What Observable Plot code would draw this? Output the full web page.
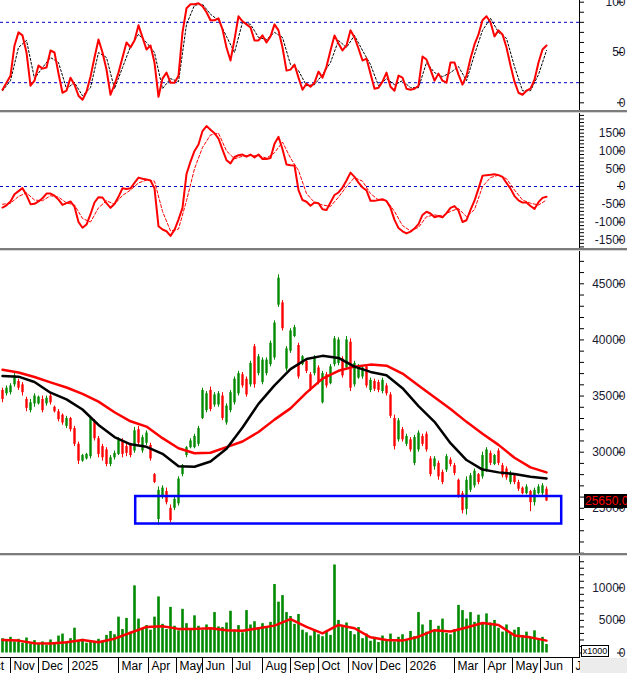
<!DOCTYPE html>
<html><head><meta charset="utf-8">
<script src="https://cdn.jsdelivr.net/npm/d3@7"></script>
<script src="https://cdn.jsdelivr.net/npm/@observablehq/plot@0.6"></script>
<style>
html,body{margin:0;padding:0;background:#fff}
#chart{position:relative;width:627px;height:673px;overflow:hidden;font-family:Arial,"Liberation Sans",sans-serif}
.panel{position:absolute;left:0;width:627px}
.panel svg{display:block}
#p4 svg{overflow:visible!important}
.sep{position:absolute;left:0;width:627px;height:3px;background:linear-gradient(#7c7c7c 0,#7c7c7c 2px,#d6d6d6 2px,#d6d6d6 3px);z-index:5}
#vaxis{position:absolute;left:579px;top:0;width:1px;height:657px;background:#000;z-index:4}
#xline{position:absolute;left:0;top:657px;width:580px;height:1px;background:#000;z-index:4}
#corner{position:absolute;left:580px;top:658px;width:47px;height:15px;background:#ececec;z-index:4}
#unit{position:absolute;left:581px;top:645px;width:28px;height:12px;box-sizing:border-box;border:1px solid #000;background:#fff;font-size:9px;line-height:10px;text-align:center;z-index:6;color:#000}
#tag{position:absolute;left:584px;width:45px;height:14px;background:#000;color:#ff0000;font-size:12px;line-height:14px;padding-left:1px;white-space:nowrap;overflow:hidden;z-index:6}
</style></head>
<body>
<div id="chart">
  <div class="panel" id="p1" style="top:0;height:110px"></div>
  <div class="sep" style="top:110px"></div>
  <div class="panel" id="p2" style="top:113px;height:135px"></div>
  <div class="sep" style="top:248px"></div>
  <div class="panel" id="p3" style="top:251px;height:302px"></div>
  <div class="sep" style="top:553px"></div>
  <div class="panel" id="p4" style="top:556px;height:101px"></div>
  <div class="panel" id="p5" style="top:657px;height:16px"></div>
  <div id="vaxis"></div>
  <div id="xline"></div>
  <div id="corner"></div>
  <div id="unit">x1000</div>
  <div id="tag"></div>
</div>
<script>
// ---------- data (one bar ≈ 3 trading sessions) ----------
const monthLabels = ["Oct","Nov","Dec","2025","Mar","Apr","May","Jun","Jul","Aug","Sep","Oct","Nov","Dec","2026","Mar","Apr","May","Jun","Jul"];
const monthStarts = [-5, 2, 9, 16.5, 29, 36.5, 43.5, 50, 57.5, 65, 72, 79, 86.5, 93.5, 101, 113, 120.5, 127.5, 134.5, 142.5];

const open = [35500,35200,35300,36000,36300,36000,34700,33700,34300,34300,34700,34300,35000,34000,33600,33300,32300,33000,32100,30700,
29200,29400,29600,32700,31200,30500,30200,28900,29500,29800,31000,30500,30600,30100,32000,30100,30800,30600,28000,24000,
26000,26500,25000,25000,25400,28000,29700,30400,30400,30700,33000,33700,35500,34200,34200,35000,32600,33700,34400,35200,
36900,36500,36000,39400,37000,36200,37000,37800,38400,43100,43300,37400,39000,40300,39500,37800,38100,36900,37000,37500,
34400,36900,36100,37800,37900,38300,37500,39800,36000,36600,36700,37600,35500,36300,36200,35400,35900,35100,33000,31100,
32000,30700,31100,29000,30200,31400,31600,29400,28700,29000,28200,28400,29300,28800,27500,26300,24900,26600,27000,28000,
27800,28400,29900,28900,30100,28800,28500,27300,27900,27300,26800,26300,26500,25500,26300,26300,26700];
const high = [35700,35900,36100,37000,36500,36200,34900,34700,35200,35000,35000,35000,35200,34100,33800,33400,33200,33100,32300,30900,
29800,29900,33200,32900,31400,30700,30400,29700,30100,31300,31200,30700,30800,32200,32300,31500,31900,30800,28100,26900,
27000,26800,25300,26000,27800,28900,30500,31200,31600,32300,35700,35400,35800,35300,35400,35300,34300,35500,36700,37200,
37100,36700,38100,39600,38700,38400,38400,39900,41700,45800,43500,39400,41000,41300,39700,38600,38300,37100,38600,37700,
37200,37100,37800,40300,40200,38500,40300,40100,38100,37800,37700,37800,36600,36500,36400,36600,36100,35300,33300,33000,
32200,31600,31300,31500,31900,31600,31800,29600,29600,29200,28400,29800,29500,29000,27600,26500,27800,28100,28500,28100,
30000,30400,30100,29800,30300,29000,28700,28300,28100,27500,26900,27100,26600,26800,27100,27200,26900];
const low = [34400,35000,35100,35800,35500,35000,33600,33500,34000,34200,33500,34100,34200,33500,32700,32400,32100,31800,30500,28900,
29100,29300,29400,31000,29500,29200,28700,28700,29300,29700,29500,29600,29500,29900,30500,29900,30600,29200,27200,23500,
25800,25300,23700,24800,25200,27800,29500,30300,30300,30500,32900,33500,33600,34000,34000,32800,32400,33500,34200,35000,
35700,34900,35800,35700,36800,36000,36800,37600,38200,42900,40800,37200,38800,40200,36500,37700,37000,35400,36800,36000,
34300,35700,36000,37600,37700,36600,37300,35400,35800,36500,36500,35700,35300,35400,35300,35200,35000,33000,30200,30900,
30900,30500,30000,28800,30000,30500,30000,27800,28400,27500,27100,28200,28700,27900,25900,24500,24400,26400,26800,27100,
27600,28200,28800,28800,28800,27700,27500,27100,27100,26500,26200,26200,24700,25200,26200,26100,25600];
const close = [34700,35700,35900,36800,35700,35300,33900,34400,35000,34900,33700,34800,34400,33600,32900,32600,33000,32000,30700,29200,
29700,29800,33000,31200,29800,29500,28900,29500,29900,31100,29800,29900,29700,31900,30800,31300,31700,29400,27300,26600,
26800,25500,23900,25800,27600,28800,30400,31000,31400,32100,35500,35200,33800,35100,35200,33000,34100,35300,36500,37000,
35900,35100,37900,36000,38500,38200,38200,39700,41500,45500,41000,39200,40800,41100,36700,38500,37200,35600,38400,36200,
37000,35900,37600,40100,40000,36800,40000,35700,37900,37600,37500,35900,36400,35600,35500,36400,35200,33200,30500,32800,
31100,31400,30200,31300,31700,30700,30200,28000,29400,27800,27300,29600,28900,28100,26100,24800,27500,27900,28300,27300,
29700,30200,29000,29700,29000,27900,27700,28100,27300,26700,26300,26900,25500,26600,26900,27000,25650];

// moving averages, one value every 4 bars
const maFast = [36780,36730,36250,35300,34700,33800,32430,31350,30700,30480,29850,28750,28700,29170,30300,32200,34300,35950,
37400,38300,38580,38400,37620,37150,36850,35700,34100,32700,30800,29300,28450,28200,28050,27820,27650];
const maSlow = [37350,37100,36700,36224,35760,35200,34500,33560,32750,32280,31250,30350,29900,29950,30450,30950,31800,32900,
33900,35300,36550,37250,37620,37800,37700,37000,35950,34900,33850,32700,31650,30650,29500,28650,28200];

// support zone (bar range, price range)
const zoneBars = [33.3, 139.8];
const zonePrice = [23600, 26050];

// stochastic %K (every bar) and %D (every 2 bars)
const stochK = [13,20,27,57,70,67,50,17,22,37, 34,35,52,50,29,10,12,25,18,7, 3,11,26,45,63,50,33,8,18,30,
45,60,55,62,77,65,53,57,40,6, 24,30,20,20,27,70,94,98,98,99, 96,90,82,82,84,73,55,42,63,86,
81,78,75,62,62,67,60,66,78,72, 55,32,33,38,25,13,19,16,20,31, 25,36,52,67,59,52,57,72,65,54,
42,44,29,14,15,21,30,16,12,27, 25,14,13,14,17,46,43,33,22,29, 22,20,40,40,28,18,27,44,58,68,
82,86,80,66,72,68,55,37,21,10, 8,12,14,23,40,53,57];
const stochD = [12,22,55,62,24,35,45,40,14,20, 7,15,50,45,14,35,56,68,60,50, 14,24,21,78,97,98,88,82,66,50,
80,78,65,63,70,65,38,32,17,18, 28,40,62,55,67,52,38,17,24,18, 22,15,15,40,30,26,30,36,22,48, 72,84,70,64,36,12,12,28,52];

// MACD (every bar) and signal (every 2 bars)
const macd = [-593,-530,-420,-216,-130,-46,-240,-498,-486,-420, -330,-200,-200,-260,-370,-517,-470,-420,-570,-1000,
-1160,-1070,-780,-450,-300,-310,-470,-600,-490,-290, -50,-70,-50,100,250,220,200,170,-50,-1120,
-1210,-1260,-1390,-1220,-930,-600,350,700,1000,1180, 1560,1700,1600,1500,1350,1040,740,650,830,880,
900,840,900,820,900,775,775,800,1200,1400, 1050,620,600,590,-100,-380,-430,-540,-450,-470,
-640,-660,-450,-240,-168,-30,170,390,270,110, -28,-110,-404,-404,-380,-357,-410,-600,-940,-1170,
-1260,-1320,-1270,-1180,-1060,-800,-710,-760,-865,-830, -870,-750,-600,-550,-680,-1000,-950,-660,-400,-60,
300,320,330,345,320,270,100,-60,-270,-390, -451,-451,-550,-630,-440,-320,-291];
const signal = [-500,-470,-280,-180,-380,-400,-260,-300,-460,-520, -900,-1000,-600,-400,-500,-250,-100,100,180,150,
-700,-1250,-1200,-400,500,1100,1450,1500,1000,780, 850,870,860,800,950,1250,800,450,-200,-450,
-520,-560,-300,0,250,150,-200,-380,-390,-700, -1100,-1250,-1150,-850,-800,-830,-700,-620,-850,-650,
0,250,320,220,-100,-380,-470,-520,-380];

// volume (x1000) every bar, volume average every 4 bars
const volume = [2200,1800,2400,1700,2100,1500,2300,1400,1900,1300, 1700,1200,2000,1500,2600,2900,1700,2200,3800,1800,
2100,1500,1900,1600,2100,1800,2700,3300,2800,5500, 3600,5300,3200,10300,5200,3700,4200,3500,5500,8600,
4400,3600,7000,4100,3400,6700,4500,3600,5700,4100, 3500,4300,3600,6200,4000,3900,4600,6400,3500,4200,
3100,6500,4300,4800,3900,4500,4000,4700,10500,7800, 8800,6200,5600,4400,5900,3500,3100,2600,3400,2800,
2500,3300,2700,13500,5000,4200,4600,3300,2800,3900, 2200,2900,1800,2400,1600,2600,2000,2900,1700,2400,
2800,2000,3300,2500,6200,4300,3200,5000,3400,4100, 5200,3000,2800,3600,7300,6500,5200,6200,4700,5800,
4400,6000,4600,5000,3800,3200,4300,2900,3500,3900, 2700,3200,2400,3400,2000,2400,1300];
const volAvg = [2000,1900,1500,1450,1650,2000,1650,2200,3100,4000,4100,3700,3700,3800,3500,3400,3800,4200,5200,4000,
3000,4300,3800,2400,2000,1900,2500,3500,3300,3900,4600,4300,2700,2400,1900];

const stochTicks = [0, 50, 100];
const macdTicks = [-1500, -1000, -500, 0, 500, 1000, 1500];
const priceTicks = [25000, 30000, 35000, 40000, 45000];
const volTicks = [0, 5000, 10000];

// ---------- drawing ----------
const GREEN = "#008a00", RED = "#ff0000", BLUE = "#0000cc", LABEL = "#1a1a33";
const xDomain = [-0.5, 144.25];
const font = "Arial, 'Liberation Sans', sans-serif";

const bars = open.map((o, i) => ({i, o, h: high[i], l: low[i], c: close[i], col: close[i] >= o ? GREEN : RED}));
const every = (arr, step) => arr.map((v, j) => ({i: j * step, v}));

function base(extra, overflow = "hidden") {
  return Object.assign({
    width: 627, marginLeft: 0, marginRight: 48,
    x: {domain: xDomain, axis: null},
    color: {type: "identity"},
    style: {background: "transparent", fontFamily: font, fontSize: "12px", overflow}
  }, extra);
}
function minor(lo, hi, step) { const r = []; for (let v = lo; v <= hi; v += step) r.push(v); return r; }
function axes(major, minorTicks) {
  return [
    Plot.axisY(minorTicks, {anchor: "right", tickSize: 4, tickFormat: () => "", stroke: "#000"}),
    Plot.axisY(major, {anchor: "right", tickSize: 6, tickPadding: 3, textAnchor: "end", dx: 37,
      tickFormat: d => String(d), stroke: "#000", fill: LABEL, fontSize: 12})
  ];
}

// panel 1: stochastic
const p1 = Plot.plot(base({
  height: 110, marginTop: 1.7, marginBottom: 7.7,
  y: {domain: [0, 100], axis: null, label: null},
  marks: [
    Plot.ruleY([20, 80], {stroke: BLUE, strokeDasharray: "3,3", strokeWidth: 1}),
    Plot.line(every(stochD, 2), {x: "i", y: "v", stroke: "#000", strokeWidth: 1, strokeDasharray: "2,2"}),
    Plot.line(every(stochK, 1), {x: "i", y: "v", stroke: RED, strokeWidth: 2}),
    ...axes(stochTicks, minor(0, 100, 10))
  ]
}));
document.getElementById("p1").append(p1);

// panel 2: MACD
const p2 = Plot.plot(base({
  height: 135, marginTop: 19.7, marginBottom: 8.7,
  y: {domain: [-1500, 1500], axis: null, label: null},
  marks: [
    Plot.ruleY([0], {stroke: BLUE, strokeDasharray: "3,3", strokeWidth: 1}),
    Plot.line(every(signal, 2), {x: "i", y: "v", stroke: RED, strokeWidth: 1, strokeDasharray: "3,2"}),
    Plot.line(every(macd, 1), {x: "i", y: "v", stroke: RED, strokeWidth: 2}),
    ...axes(macdTicks, minor(-1700, 2000, 100))
  ]
}));
document.getElementById("p2").append(p2);

// panel 3: price
const p3 = Plot.plot(base({
  height: 302, marginTop: 32.3, marginBottom: 45.2,
  y: {domain: [25000, 45000], axis: null, label: null},
  marks: [
    Plot.ruleX(bars, {x: "i", y1: "l", y2: "h", stroke: "col", strokeWidth: 1}),
    Plot.ruleX(bars, {x: "i", y1: "o", y2: "c", stroke: "col", strokeWidth: 2.4}),
    Plot.line(every(maSlow, 4), {x: "i", y: "v", stroke: RED, strokeWidth: 2.5}),
    Plot.line(every(maFast, 4), {x: "i", y: "v", stroke: "#000", strokeWidth: 2.5}),
    Plot.rect([{x1: zoneBars[0], x2: zoneBars[1], y1: zonePrice[0], y2: zonePrice[1]}],
      {x1: "x1", x2: "x2", y1: "y1", y2: "y2", fill: "none", stroke: "#0000ff", strokeWidth: 2.5}),
    ...axes(priceTicks, minor(21000, 47000, 1000))
  ]
}));
document.getElementById("p3").append(p3);
const lastClose = close[close.length - 1];
const tag = document.getElementById("tag");
tag.textContent = lastClose.toFixed(2);
tag.style.top = (251 + p3.scale("y").apply(lastClose) - 7) + "px";

// panel 4: volume
const p4 = Plot.plot(base({
  height: 101, marginTop: 31.3, marginBottom: 4.5,
  y: {domain: [0, 10000], axis: null, label: null},
  marks: [
    Plot.ruleX(every(volume, 1), {x: "i", y1: 0, y2: "v", stroke: GREEN, strokeWidth: 2.6}),
    Plot.line(every(volAvg, 4), {x: "i", y: "v", stroke: RED, strokeWidth: 2.5}),
    ...axes(volTicks, minor(0, 14000, 1000))
  ]
}, "visible"));
document.getElementById("p4").append(p4);

// time axis
const p5 = Plot.plot(base({
  height: 16, marginTop: 0, marginBottom: 0,
  marks: [
    Plot.ruleX(monthStarts, {stroke: "#000", strokeWidth: 1}),
    Plot.text(monthStarts, {x: d => d, text: (d, i) => monthLabels[i], frameAnchor: "middle",
      textAnchor: "start", dx: 3, dy: 1, fill: "#000", fontSize: 12})
  ]
}));
document.getElementById("p5").append(p5);
</script>
</body></html>
